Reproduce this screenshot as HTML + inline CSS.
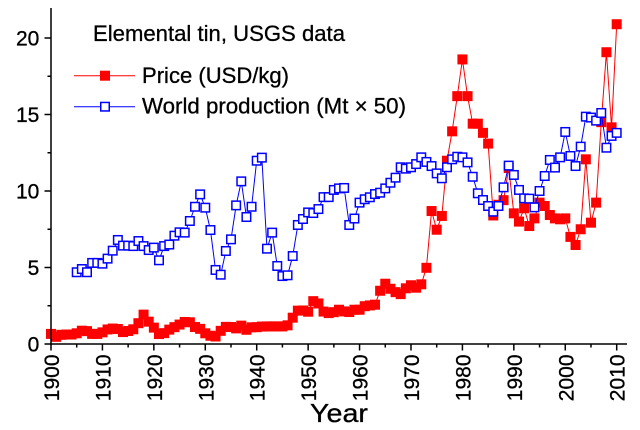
<!DOCTYPE html>
<html>
<head>
<meta charset="utf-8">
<style>
  html,body{margin:0;padding:0;background:#fff;}
  svg{display:block;font-family:"Liberation Sans",Arial,sans-serif;}
</style>
</head>
<body>
<svg width="640" height="430" viewBox="0 0 640 430" xmlns="http://www.w3.org/2000/svg">
  <defs>
    <marker id="mr" markerUnits="userSpaceOnUse" markerWidth="4" markerHeight="4" refX="0" refY="0" style="overflow:visible" overflow="visible">
      <rect x="-0.9722" y="-0.3268" width="1.9445" height="0.6536" fill="#ff0000"/>
    </marker>
    <marker id="mb" markerUnits="userSpaceOnUse" markerWidth="4" markerHeight="4" refX="0" refY="0" style="overflow:visible" overflow="visible">
      <rect x="-0.9722" y="-0.3268" width="1.9445" height="0.6536" fill="#0000ff"/>
      <rect x="-0.6806" y="-0.2288" width="1.3611" height="0.4575" fill="#ffffff"/>
    </marker>
  </defs>
  <rect width="640" height="430" fill="#fff"/>

  <!-- data -->
  <g transform="translate(51 344) scale(5.1427 -15.3)">
    <polyline fill="none" stroke="#ff0000" stroke-width="1" vector-effect="non-scaling-stroke"
      marker-start="url(#mr)" marker-mid="url(#mr)" marker-end="url(#mr)"
      points="0,0.66 1,0.47 2,0.6 3,0.62 4,0.62 5,0.70 6,0.87 7,0.84 8,0.66 9,0.66 10,0.76 11,0.95 12,1.01 13,0.98 14,0.78 15,0.85 16,0.96 17,1.36 18,1.92 19,1.46 20,1.07 21,0.65 22,0.71 23,0.94 24,1.10 25,1.27 26,1.44 27,1.42 28,1.11 29,0.99 30,0.70 31,0.54 32,0.49 33,0.86 34,1.12 35,1.11 36,1.02 37,1.20 38,0.93 39,1.09 40,1.10 41,1.14 42,1.15 43,1.15 44,1.15 45,1.15 46,1.22 47,1.72 48,2.18 49,2.19 50,2.11 51,2.80 52,2.65 53,2.12 54,2.02 55,2.08 56,2.24 57,2.13 58,2.09 59,2.24 60,2.24 61,2.47 62,2.52 63,2.57 64,3.48 65,3.94 66,3.61 67,3.39 68,3.26 69,3.64 70,3.84 71,3.68 72,3.90 73,4.98 74,8.69 75,7.47 76,8.37 77,11.98 78,13.9 79,16.2 80,18.6 81,16.2 82,14.4 83,14.4 84,13.8 85,13.1 86,8.4 87,9.1 88,9.4 89,11.5 90,8.54 91,8.0 92,8.87 93,7.71 94,8.21 95,9.24 96,9.02 97,8.43 98,8.21 99,8.15 100,8.21 101,7.0 102,6.47 103,7.5 104,12.07 105,7.93 106,9.24 107,14.5 108,19.07 109,14.16 110,20.9"/>
    <polyline fill="none" stroke="#0000ff" stroke-width="1" vector-effect="non-scaling-stroke"
      marker-start="url(#mb)" marker-mid="url(#mb)" marker-end="url(#mb)"
      points="5,4.69 6,4.9 7,4.69 8,5.3 9,5.3 10,5.25 11,5.58 12,6.1 13,6.8 14,6.43 15,6.43 16,6.4 17,6.73 18,6.4 19,6.14 20,6.3 21,5.47 22,6.4 23,6.5 24,7.08 25,7.3 26,7.28 27,8.04 28,8.97 29,9.78 30,8.91 31,7.45 32,4.84 33,4.53 34,6.08 35,6.84 36,9.06 37,10.63 38,8.3 39,8.97 40,11.98 41,12.18 42,6.23 43,7.28 44,5.1 45,4.44 46,4.49 47,5.75 48,7.78 49,8.17 50,8.6 51,8.56 52,8.82 53,9.6 54,9.6 55,10.07 56,10.17 57,10.2 58,7.78 59,8.2 60,9.24 61,9.46 62,9.59 63,9.8 64,9.89 65,10.17 66,10.54 67,10.87 68,11.55 69,11.46 70,11.55 71,11.76 72,12.2 73,11.9 74,11.63 75,11.15 76,10.83 77,11.55 78,12.07 79,12.24 80,12.2 81,11.87 82,10.93 83,9.85 84,9.41 85,9.02 86,8.65 87,9.02 88,10.24 89,11.66 90,11.05 91,10.07 92,9.52 93,9.5 94,8.93 95,10.0 96,10.98 97,12.03 98,11.53 99,12.2 100,13.86 101,12.29 102,11.63 103,12.9 104,14.86 105,14.8 106,14.6 107,15.1 108,12.83 109,13.6 110,13.8"/>
  </g>

  <!-- axes -->
  <g stroke="#000" stroke-width="1.5" fill="none">
    <line x1="51" y1="8" x2="51" y2="344.75"/>
    <line x1="50.25" y1="344" x2="627" y2="344"/>
    <line x1="44.5" y1="344" x2="51" y2="344"/>
    <line x1="44.5" y1="267.5" x2="51" y2="267.5"/>
    <line x1="44.5" y1="191" x2="51" y2="191"/>
    <line x1="44.5" y1="114.5" x2="51" y2="114.5"/>
    <line x1="44.5" y1="38" x2="51" y2="38"/>
    <line x1="47.5" y1="305.75" x2="51" y2="305.75"/>
    <line x1="47.5" y1="229.25" x2="51" y2="229.25"/>
    <line x1="47.5" y1="152.75" x2="51" y2="152.75"/>
    <line x1="47.5" y1="76.25" x2="51" y2="76.25"/>
    <line x1="51" y1="344" x2="51" y2="350.5"/>
    <line x1="102.43" y1="344" x2="102.43" y2="350.5"/>
    <line x1="153.85" y1="344" x2="153.85" y2="350.5"/>
    <line x1="205.28" y1="344" x2="205.28" y2="350.5"/>
    <line x1="256.71" y1="344" x2="256.71" y2="350.5"/>
    <line x1="308.14" y1="344" x2="308.14" y2="350.5"/>
    <line x1="359.56" y1="344" x2="359.56" y2="350.5"/>
    <line x1="410.99" y1="344" x2="410.99" y2="350.5"/>
    <line x1="462.42" y1="344" x2="462.42" y2="350.5"/>
    <line x1="513.84" y1="344" x2="513.84" y2="350.5"/>
    <line x1="565.27" y1="344" x2="565.27" y2="350.5"/>
    <line x1="616.70" y1="344" x2="616.70" y2="350.5"/>
    <line x1="76.71" y1="344" x2="76.71" y2="347.5"/>
    <line x1="128.14" y1="344" x2="128.14" y2="347.5"/>
    <line x1="179.57" y1="344" x2="179.57" y2="347.5"/>
    <line x1="230.99" y1="344" x2="230.99" y2="347.5"/>
    <line x1="282.42" y1="344" x2="282.42" y2="347.5"/>
    <line x1="333.85" y1="344" x2="333.85" y2="347.5"/>
    <line x1="385.28" y1="344" x2="385.28" y2="347.5"/>
    <line x1="436.70" y1="344" x2="436.70" y2="347.5"/>
    <line x1="488.13" y1="344" x2="488.13" y2="347.5"/>
    <line x1="539.56" y1="344" x2="539.56" y2="347.5"/>
    <line x1="590.98" y1="344" x2="590.98" y2="347.5"/>
  </g>

  <!-- y tick labels -->
  <g font-size="21" fill="#000" stroke="#000" stroke-width="0.3" text-anchor="end">
    <text x="39.3" y="351.5">0</text>
    <text x="39.3" y="275">5</text>
    <text x="39.3" y="198.5">10</text>
    <text x="39.3" y="122">15</text>
    <text x="39.3" y="45.5">20</text>
  </g>

  <!-- x tick labels (rotated) -->
  <g font-size="21" fill="#000" stroke="#000" stroke-width="0.3" text-anchor="end">
    <text transform="translate(59 354.5) rotate(-90)">1900</text>
    <text transform="translate(110.4 354.5) rotate(-90)">1910</text>
    <text transform="translate(161.8 354.5) rotate(-90)">1920</text>
    <text transform="translate(213.3 354.5) rotate(-90)">1930</text>
    <text transform="translate(264.7 354.5) rotate(-90)">1940</text>
    <text transform="translate(316.1 354.5) rotate(-90)">1950</text>
    <text transform="translate(367.6 354.5) rotate(-90)">1960</text>
    <text transform="translate(419 354.5) rotate(-90)">1970</text>
    <text transform="translate(470.4 354.5) rotate(-90)">1980</text>
    <text transform="translate(521.8 354.5) rotate(-90)">1990</text>
    <text transform="translate(573.3 354.5) rotate(-90)">2000</text>
    <text transform="translate(624.7 354.5) rotate(-90)">2010</text>
  </g>

  <!-- axis title -->
  <text x="310" y="422" font-size="26" fill="#000" stroke="#000" stroke-width="0.3" textLength="58" lengthAdjust="spacingAndGlyphs">Year</text>

  <!-- title -->
  <text x="93" y="41" font-size="22" fill="#000" stroke="#000" stroke-width="0.3" textLength="252" lengthAdjust="spacingAndGlyphs">Elemental tin, USGS data</text>

  <!-- legend -->
  <line x1="74" y1="75.7" x2="135" y2="75.7" stroke="#ff0000" stroke-width="1"/>
  <rect x="100" y="70.7" width="10" height="10" fill="#ff0000"/>
  <text x="142" y="83" font-size="22" fill="#000" stroke="#000" stroke-width="0.3" textLength="147" lengthAdjust="spacingAndGlyphs">Price (USD/kg)</text>

  <line x1="74" y1="106.7" x2="135" y2="106.7" stroke="#0000ff" stroke-width="1"/>
  <rect x="100.75" y="102.45" width="8.5" height="8.5" fill="#fff" stroke="#0000ff" stroke-width="1.5"/>
  <text x="142" y="113.5" font-size="22" fill="#000" stroke="#000" stroke-width="0.3" textLength="264" lengthAdjust="spacingAndGlyphs">World production (Mt × 50)</text>
</svg>
</body>
</html>
